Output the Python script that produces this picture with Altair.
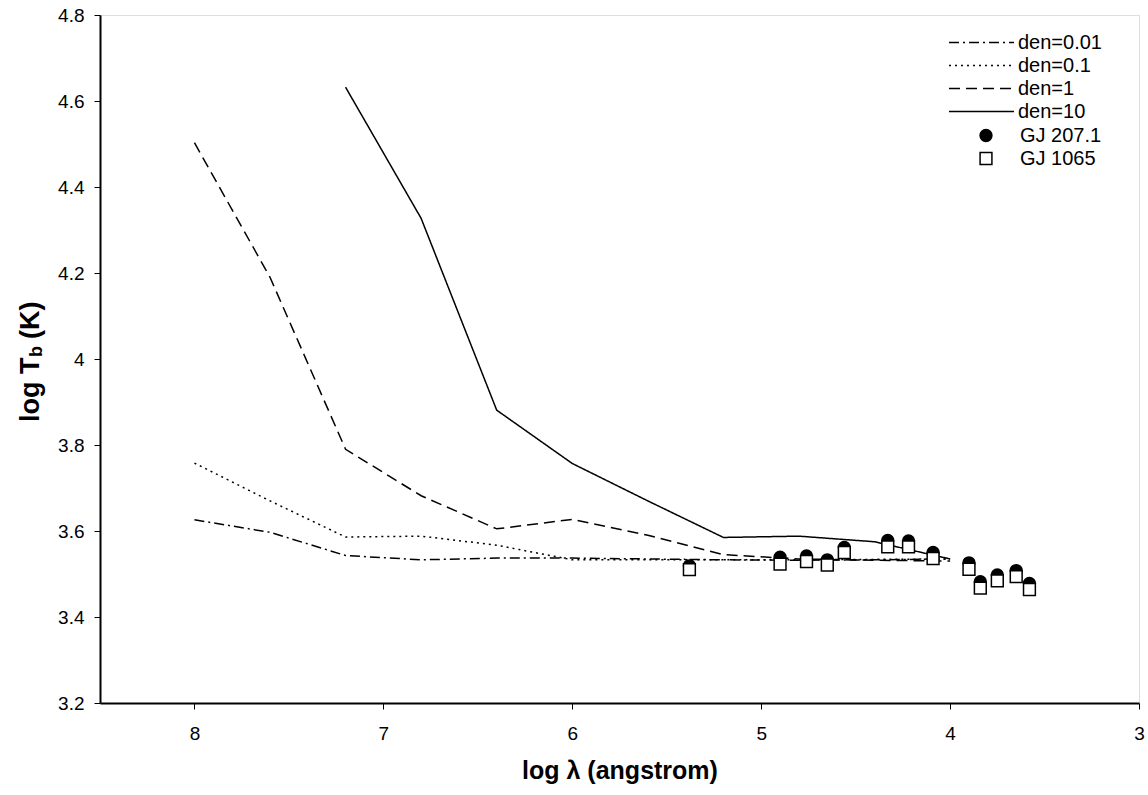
import altair as alt
import pandas as pd

# model curves (log lambda grid)
grid_x = [8.0, 7.6, 7.2, 6.8, 6.4, 6.0, 5.6, 5.2, 4.8, 4.4, 4.0]
den_001 = [3.626, 3.597, 3.543, 3.533, 3.537, 3.537, 3.535, 3.533, 3.532, 3.533, 3.535]
den_01 = [3.758, 3.670, 3.586, 3.588, 3.567, 3.533, 3.533, 3.533, 3.533, 3.534, 3.535]
den_1 = [4.503, 4.190, 3.790, 3.682, 3.605, 3.627, 3.590, 3.545, 3.535, 3.532, 3.530]
den10_x = [7.2, 6.8, 6.4, 6.0, 5.6, 5.2, 4.8, 4.4, 4.0]
den_10 = [4.632, 4.327, 3.881, 3.757, 3.670, 3.585, 3.588, 3.575, 3.535]

series_names = ["den=0.01", "den=0.1", "den=1", "den=10"]
dash_styles = [[10, 4, 2, 4], [2, 4], [11, 6], [1, 0]]

# observations
obs_x = [5.38, 4.90, 4.76, 4.65, 4.56, 4.33, 4.22, 4.09, 3.90, 3.84, 3.75, 3.65, 3.58]
gj207 = [3.519, 3.539, 3.542, 3.533, 3.562, 3.578, 3.577, 3.550, 3.526, 3.482, 3.498, 3.508, 3.478]
gj1065 = [3.510, 3.523, 3.529, 3.521, 3.550, 3.563, 3.563, 3.536, 3.511, 3.467, 3.484, 3.494, 3.464]
star_names = ["GJ 207.1", "GJ 1065"]

rows = []
for name, xs, ys in [
    ("den=0.01", grid_x, den_001),
    ("den=0.1", grid_x, den_01),
    ("den=1", grid_x, den_1),
    ("den=10", den10_x, den_10),
]:
    for xv, yv in zip(xs, ys):
        rows.append({"x": xv, "y": yv, "series": name})
line_df = pd.DataFrame(rows)

prow = []
for i, (name, ys) in enumerate([("GJ 207.1", gj207), ("GJ 1065", gj1065)]):
    for xv, yv in zip(obs_x, ys):
        prow.append({"x": xv, "y": yv, "star": name, "ord": i})
pt_df = pd.DataFrame(prow)

FONT = "Liberation Sans"

xscale = alt.Scale(domain=[3, 8.5], reverse=True, nice=False, zero=False)
yscale = alt.Scale(domain=[3.2, 4.8], nice=False, zero=False)

xaxis = alt.Axis(
    values=[8, 7, 6, 5, 4, 3], format="~g", grid=False, title="log λ (angstrom)",
    titleFontSize=25, titleFontWeight="bold", titlePadding=15, titleColor="black",
    labelFontSize=19, labelPadding=15, tickSize=6, labelColor="black",
    domainColor="black", tickColor="black", domainWidth=2, labelFlush=False,
)
yaxis = alt.Axis(
    values=[3.2, 3.4, 3.6, 3.8, 4.0, 4.2, 4.4, 4.6, 4.8], format="~g", grid=False, title=None,
    labelFontSize=19, labelPadding=10, tickSize=6, labelColor="black",
    domainColor="black", tickColor="black", domainWidth=2,
)

lines = alt.Chart(line_df).mark_line(color="black", strokeWidth=1.5).encode(
    x=alt.X("x:Q", scale=xscale, axis=xaxis),
    y=alt.Y("y:Q", scale=yscale, axis=yaxis),
    strokeDash=alt.StrokeDash(
        "series:N",
        scale=alt.Scale(domain=series_names, range=dash_styles),
        sort=series_names,
        legend=alt.Legend(
            orient="none", legendX=848, legendY=16, title=None,
            symbolType="stroke", symbolSize=4225, symbolStrokeWidth=1.5,
            symbolStrokeColor="black", labelFontSize=20, labelOffset=3,
            clipHeight=23, padding=0, rowPadding=0, labelColor="black",
        ),
    ),
)

pleg = alt.Legend(
    orient="none", legendX=876, legendY=109, title=None,
    symbolSize=140, symbolStrokeWidth=1.5,
    labelFontSize=20, labelOffset=24, clipHeight=23, padding=0, rowPadding=0,
    labelColor="black",
)

points = alt.Chart(pt_df).mark_point(filled=True, strokeWidth=1.5, opacity=1, size=140).encode(
    x=alt.X("x:Q", scale=xscale),
    y=alt.Y("y:Q", scale=yscale),
    shape=alt.Shape("star:N", scale=alt.Scale(domain=star_names, range=["circle", "square"]), sort=star_names, legend=pleg),
    fill=alt.Fill("star:N", scale=alt.Scale(domain=star_names, range=["black", "white"]), sort=star_names, legend=pleg),
    stroke=alt.Stroke("star:N", scale=alt.Scale(domain=star_names, range=["black", "black"]), sort=star_names, legend=pleg),
    order=alt.Order("ord:Q"),
)

# y-axis title with subscript b
ttl = dict(angle=270, align="left", baseline="alphabetic", font=FONT, fontWeight="bold", color="black")
t1 = alt.Chart(pd.DataFrame({"t": ["log T"]})).mark_text(fontSize=27, **ttl).encode(
    text="t:N", x=alt.value(-61), y=alt.value(407))
t2 = alt.Chart(pd.DataFrame({"t": ["b"]})).mark_text(fontSize=18, **ttl).encode(
    text="t:N", x=alt.value(-58), y=alt.value(342))
t3 = alt.Chart(pd.DataFrame({"t": ["(K)"]})).mark_text(fontSize=27, **ttl).encode(
    text="t:N", x=alt.value(-61), y=alt.value(324))

chart = alt.layer(lines, points, t1, t2, t3).properties(
    width=1039, height=688,
    padding={"left": 100, "top": 15, "right": 9, "bottom": 92},
    autosize=alt.AutoSizeParams(type="none"),
    background="white",
).configure_view(
    stroke="black", strokeWidth=2
).configure(
    font=FONT
)

chart.save("out.html", embed_options={"renderer": "svg", "actions": False})
